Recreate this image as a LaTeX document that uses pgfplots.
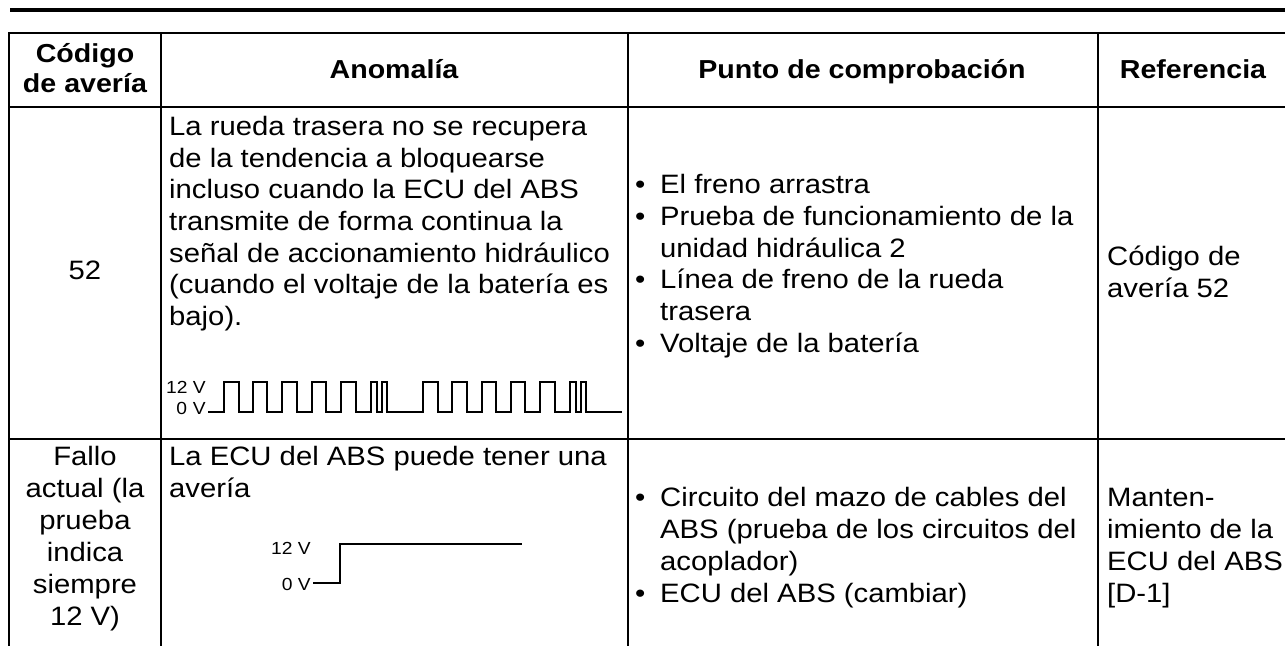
\documentclass[border=0pt]{standalone}
\usepackage{pgfplots}
\pgfplotsset{compat=1.18}
\usepackage{fontspec}
\setmainfont{Liberation Sans}[FakeStretch=1.1]
\newcommand{\headf}{\fontsize{26}{32}\selectfont}
\newcommand{\bigf}{\fontsize{26.6}{32}\selectfont}
\newcommand{\smallf}{\fontsize{17.5}{20}\selectfont}
\begin{document}
\begin{tikzpicture}
\path[use as bounding box] (0,0) rectangle (1285pt,646pt);
\begin{axis}[at={(0,0)},anchor=south west,width=1285pt,height=646pt,scale only axis,hide axis,
  xmin=0,xmax=1285,ymin=0,ymax=646,y dir=reverse,clip=false]
% rules
\draw[line width=4.5pt] (axis cs:10,10) -- (axis cs:1285,10);
\draw[line width=2.5pt] (axis cs:8,33) -- (axis cs:1285,33);
\draw[line width=2.5pt] (axis cs:8,107) -- (axis cs:1285,107);
\draw[line width=2.5pt] (axis cs:8,439) -- (axis cs:1285,439);
\draw[line width=2.5pt] (axis cs:9,33) -- (axis cs:9,646);
\draw[line width=2.5pt] (axis cs:161,33) -- (axis cs:161,646);
\draw[line width=2.5pt] (axis cs:628,33) -- (axis cs:628,646);
\draw[line width=2.5pt] (axis cs:1098,33) -- (axis cs:1098,646);
% header
\begin{scope}[every node/.style={inner sep=0pt,font=\headf\bfseries}]
\node[anchor=base] at (axis cs:85,62) {Código};
\node[anchor=base] at (axis cs:85,92) {de avería};
\node[anchor=base] at (axis cs:394,78) {Anomalía};
\node[anchor=base] at (axis cs:862,78) {Punto de comprobación};
\node[anchor=base] at (axis cs:1193,78) {Referencia};
\end{scope}
\begin{scope}[every node/.style={inner sep=0pt,font=\bigf}]
% row 1
\node[anchor=base] at (axis cs:85,279) {52};
\node[anchor=base west] at (axis cs:169,135) {La rueda trasera no se recupera};
\node[anchor=base west] at (axis cs:169,167) {de la tendencia a bloquearse};
\node[anchor=base west] at (axis cs:169,198) {incluso cuando la ECU del ABS};
\node[anchor=base west] at (axis cs:169,230) {transmite de forma continua la};
\node[anchor=base west] at (axis cs:169,262) {señal de accionamiento hidráulico};
\node[anchor=base west] at (axis cs:169,293) {(cuando el voltaje de la batería es};
\node[anchor=base west] at (axis cs:169,325) {bajo).};
\node[anchor=base west] at (axis cs:635,193) {•};
\node[anchor=base west] at (axis cs:660,193) {El freno arrastra};
\node[anchor=base west] at (axis cs:635,225) {•};
\node[anchor=base west] at (axis cs:660,225) {Prueba de funcionamiento de la};
\node[anchor=base west] at (axis cs:660,257) {unidad hidráulica 2};
\node[anchor=base west] at (axis cs:635,288) {•};
\node[anchor=base west] at (axis cs:660,288) {Línea de freno de la rueda};
\node[anchor=base west] at (axis cs:660,320) {trasera};
\node[anchor=base west] at (axis cs:635,352) {•};
\node[anchor=base west] at (axis cs:660,352) {Voltaje de la batería};
\node[anchor=base west] at (axis cs:1107,265) {Código de};
\node[anchor=base west] at (axis cs:1107,297) {avería 52};
% row 2
\node[anchor=base] at (axis cs:85,465) {Fallo};
\node[anchor=base] at (axis cs:85,497) {actual (la};
\node[anchor=base] at (axis cs:85,529) {prueba};
\node[anchor=base] at (axis cs:85,561) {indica};
\node[anchor=base] at (axis cs:85,593) {siempre};
\node[anchor=base] at (axis cs:85,625) {12 V)};
\node[anchor=base west] at (axis cs:169,465) {La ECU del ABS puede tener una};
\node[anchor=base west] at (axis cs:169,497) {avería};
\node[anchor=base west] at (axis cs:635,506) {•};
\node[anchor=base west] at (axis cs:660,506) {Circuito del mazo de cables del};
\node[anchor=base west] at (axis cs:660,538) {ABS (prueba de los circuitos del};
\node[anchor=base west] at (axis cs:660,570) {acoplador)};
\node[anchor=base west] at (axis cs:635,602) {•};
\node[anchor=base west] at (axis cs:660,602) {ECU del ABS (cambiar)};
\node[anchor=base west] at (axis cs:1107,506) {Manten-};
\node[anchor=base west] at (axis cs:1107,538) {imiento de la};
\node[anchor=base west] at (axis cs:1107,570) {ECU del ABS};
\node[anchor=base west] at (axis cs:1107,602) {[D-1]};
\end{scope}
\begin{scope}[every node/.style={inner sep=0pt,font=\smallf}]
\node[anchor=base east] at (axis cs:206,393) {12 V};
\node[anchor=base east] at (axis cs:206,414) {0\,\,V};
\node[anchor=base east] at (axis cs:311,554) {12 V};
\node[anchor=base east] at (axis cs:311,590) {0 V};
\end{scope}
\end{axis}
% waveform row 1 (0 V / 12 V)
\begin{axis}[at={(208pt,234pt)},anchor=south west,width=414pt,height=30pt,scale only axis,hide axis,
  xmin=0,xmax=414,ymin=0,ymax=12,clip=false]
\addplot[black,line width=2pt,line join=miter] coordinates {
(0,0)(16,0)(16,12)(31,12)(31,0)(45,0)(45,12)(59,12)(59,0)(74,0)(74,12)(89,12)(89,0)
(104,0)(104,12)(118,12)(118,0)(133,0)(133,12)(148,12)(148,0)(163,0)(163,12)(169,12)(169,0)
(174,0)(174,12)(179,12)(179,0)(215,0)(215,12)(230,12)(230,0)(244,0)(244,12)(259,12)(259,0)
(274,0)(274,12)(288,12)(288,0)(303,0)(303,12)(317,12)(317,0)(332,0)(332,12)(347,12)(347,0)
(362,0)(362,12)(368,12)(368,0)(373,0)(373,12)(378,12)(378,0)(414,0)};
\end{axis}
% waveform row 2
\begin{axis}[at={(313pt,63pt)},anchor=south west,width=209pt,height=39pt,scale only axis,hide axis,
  xmin=0,xmax=209,ymin=0,ymax=12,clip=false]
\addplot[black,line width=1.8pt,line join=miter] coordinates {(0,0)(27,0)(27,12)(209,12)};
\end{axis}
\end{tikzpicture}
\end{document}
